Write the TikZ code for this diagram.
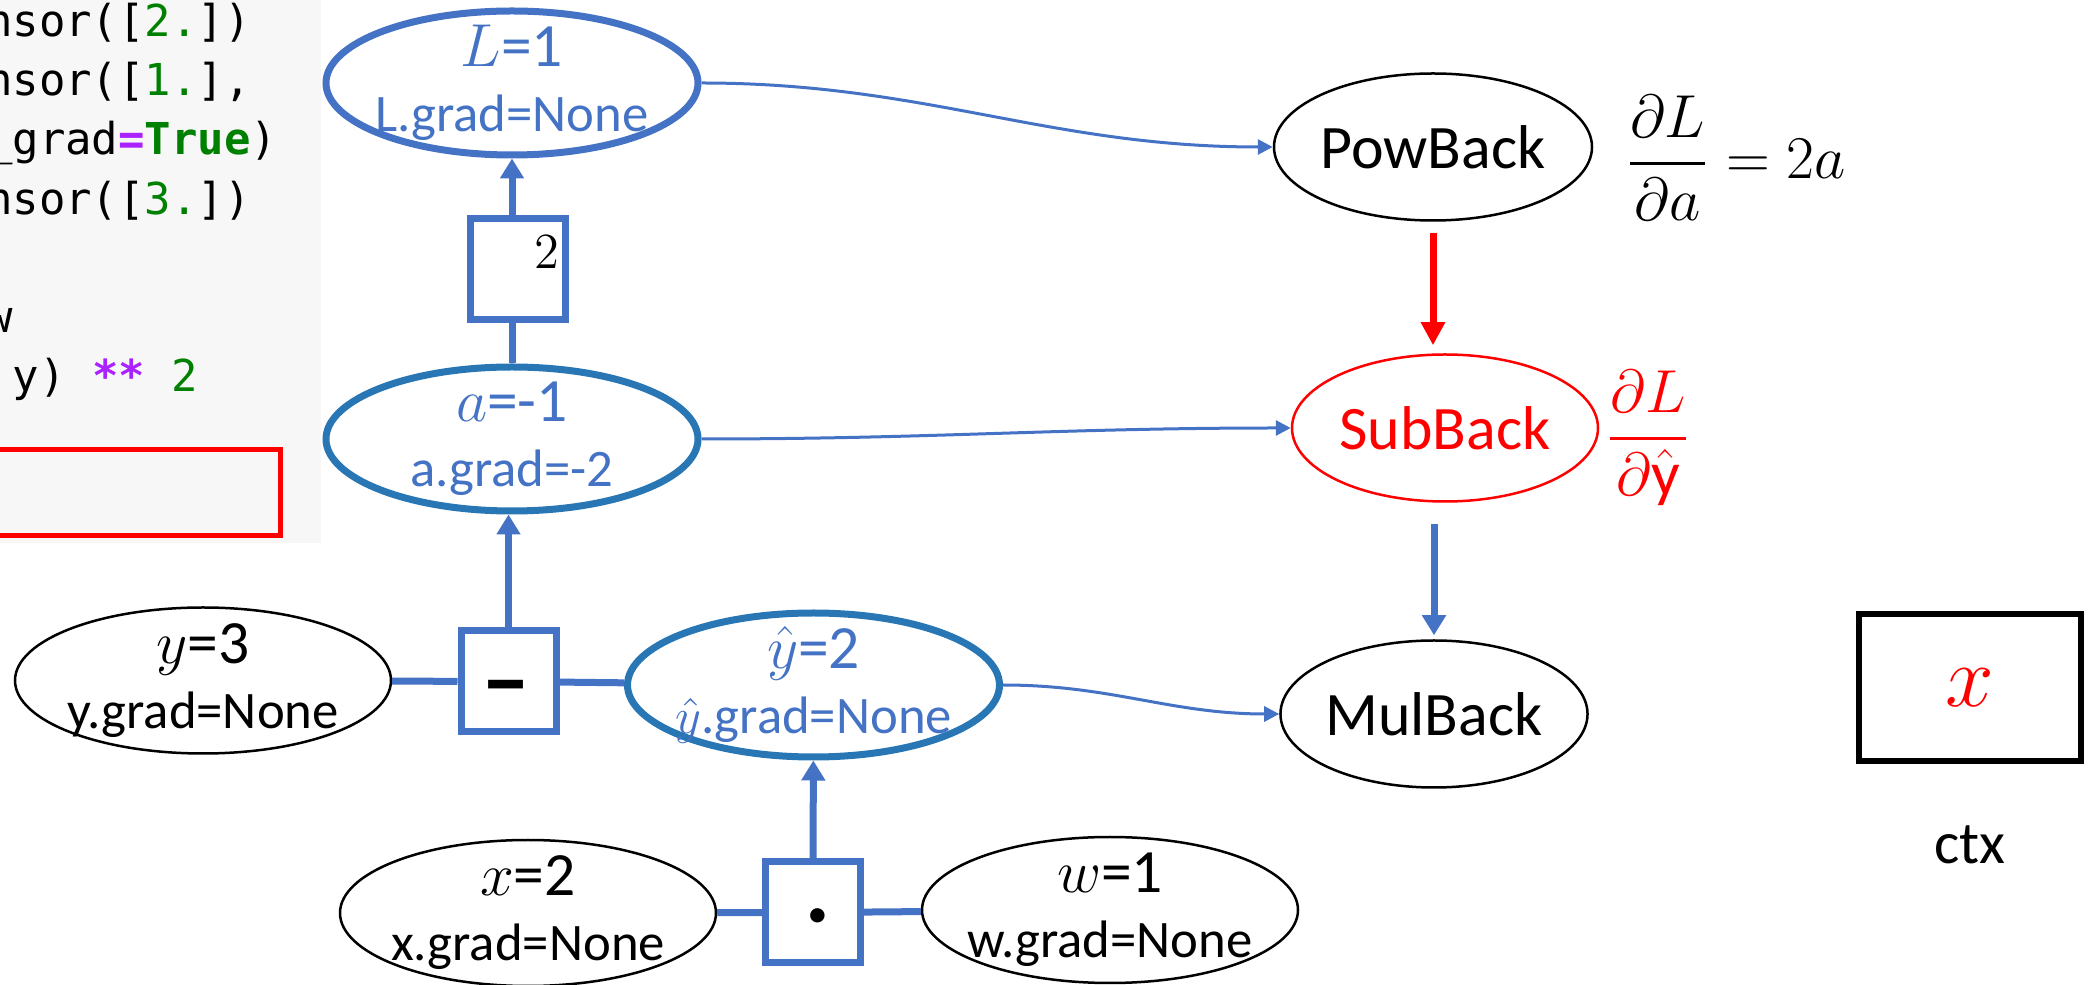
\documentclass[tikz,border=0pt]{standalone}
\usepackage{amsmath}
\usepackage{fontspec}
\setmainfont{Carlito}
\setmonofont{DejaVu Sans Mono}
\usetikzlibrary{shapes.geometric,arrows.meta,positioning}

\definecolor{ppblue}{RGB}{68,114,196}
\definecolor{tealblue}{RGB}{40,118,180}
\definecolor{codebg}{RGB}{247,247,247}
\definecolor{codegreen}{RGB}{0,128,0}
\definecolor{codepurple}{RGB}{170,34,255}

\newcommand{\twolines}[2]{{\fontsize{17.5pt}{18.5pt}\selectfont #1}\\#2}

\tikzset{
  var/.style={ellipse, draw, line width=0.025cm, minimum width=3.76cm, minimum height=1.46cm, inner sep=0pt},
  gradvar/.style={var, draw=ppblue, line width=0.07cm, minimum width=3.72cm, minimum height=1.44cm},
  vtext/.style={align=center, font=\fontsize{15pt}{18.5pt}\selectfont},
  opbox/.style={draw=ppblue, line width=0.07cm, minimum width=0.95cm, minimum height=1.01cm, inner sep=0pt},
  back/.style={ellipse, draw, line width=0.025cm, minimum width=3.06cm, minimum height=1.47cm, inner sep=0pt, font=\fontsize{17.6pt}{20pt}\selectfont},
  wire/.style={ppblue, line width=0.07cm},
  flow/.style={wire, -{Triangle[length=0.2cm,width=0.23cm]}},
  link/.style={ppblue, line width=0.03cm, -{Triangle[length=0.15cm,width=0.15cm]}}
}

\begin{document}
\begin{tikzpicture}
  \useasboundingbox (0,0) rectangle (20.95,-9.85);

  % code cell
  \fill[codebg] (0,0) rectangle (3.21,-5.43);
  \begin{scope}
    \clip (0,0) rectangle (3.21,-5.43);
    \foreach \yy/\txt [count=\i] in {
      0.37/{nsor([\textcolor{codegreen}{2.}])},
      0.96/{nsor([\textcolor{codegreen}{1.}],},
      1.55/{\_grad\textcolor{codepurple}{\textbf{=}}\textcolor{codegreen}{\textbf{True}})},
      2.15/{nsor([\textcolor{codegreen}{3.}])},
      3.33/{w},
      3.92/{\ y) \textcolor{codepurple}{\textbf{**}} \textcolor{codegreen}{2}}} {
      \node[anchor=base west, inner sep=0pt, font=\ttfamily\fontsize{12.5pt}{14pt}\selectfont] (code\i) at (-0.145,-\yy) {\txt};
    }
  \end{scope}
  \draw[red, line width=0.05cm] (-0.1,-4.50) rectangle (2.805,-5.355);

  % forward graph
  \node[gradvar] (L) at (5.12,-0.83) {};
  \node[vtext, text=ppblue] (Ltext) at (L) {\twolines{$L$=1}{L.grad=None}};
  \node[opbox] (pow) at (5.18,-2.69) {};
  \node[font=\fontsize{15pt}{15pt}\selectfont] (powexp) at (5.47,-2.52) {$2$};
  \node[gradvar, draw=tealblue] (a) at (5.12,-4.39) {};
  \node[vtext, text=ppblue] (atext) at (a) {\twolines{$a$=-1}{a.grad=-2}};
  \node[opbox] (minus) at (5.085,-6.815) {};
  \node[anchor=base, font=\bfseries\fontsize{28pt}{28pt}\selectfont] (minustext) at (5.065,-7.13) {\textendash};
  \node[gradvar, draw=tealblue] (yhat) at (8.135,-6.85) {};
  \node[vtext, text=ppblue] (yhattext) at (yhat) {\twolines{$\hat{y}$=2}{$\hat{y}$.grad=None}};
  \node[opbox] (dot) at (8.13,-9.125) {};
  \node[anchor=base, font=\bfseries\fontsize{22pt}{22pt}\selectfont] (dottext) at (8.18,-9.38) {·};

  \foreach \n/\px/\py/\v in {y/2.03/-6.805/3, x/5.28/-9.13/2, w/11.10/-9.10/1} {
    \node[var] (\n) at (\px,\py) {};
    \node[vtext] (\n txt) at (\n) {\twolines{$\n$=\v}{\n.grad=None}};
  }

  \draw[wire] (y) -- (minus);
  \draw[wire] (minus) -- (yhat);
  \draw[wire] (x) -- (dot);
  \draw[wire] (dot) -- (w);
  \draw[wire] (a.north) -- (a.north |- pow.south);
  \draw[flow] (pow.north -| L) -- (L.south);
  \draw[flow] (minus.north) -- (minus.north |- a.south);
  \draw[flow] (dot) -- (yhat);

  % backward graph
  \node[back] (PowB) at (14.33,-1.47) {PowBack};
  \node[back, draw=red, text=red] (SubB) at (14.45,-4.28) {SubBack};
  \node[back] (MulB) at (14.34,-7.14) {MulBack};

  \draw[link] (L.east) to[out=0,in=180] (PowB.west);
  \draw[link] (a.east) to[out=0,in=180] (SubB.west);
  \draw[link] (yhat.east) to[out=0,in=180] (MulB.west);

  \draw[red, line width=0.07cm, -{Triangle[length=0.23cm,width=0.23cm]}] ([yshift=-0.11cm]PowB.south) -- ([yshift=0.08cm]PowB.south |- SubB.north);
  \draw[flow] ([yshift=-0.21cm]MulB.north |- SubB.south) -- ([yshift=0.04cm]MulB.north);

  \node[font=\fontsize{18pt}{20pt}\selectfont] (dLda) at (17.36,-1.58) {$\dfrac{\partial L}{\partial a}=2a$};
  \node[font=\fontsize{18pt}{20pt}\selectfont, text=red] (dLdyhat) at (16.48,-4.38) {$\dfrac{\partial L}{\partial\hat{\mathrm{y}}}$};

  % ctx
  \node[draw, line width=0.06cm, minimum width=2.22cm, minimum height=1.47cm, text=red, font=\fontsize{24pt}{26pt}\selectfont] (ctx) at (19.70,-6.88) {$x$};
  \node[below=0.49cm of ctx, font=\fontsize{17pt}{20pt}\selectfont] (ctxname) {ctx};
\end{tikzpicture}
\end{document}
